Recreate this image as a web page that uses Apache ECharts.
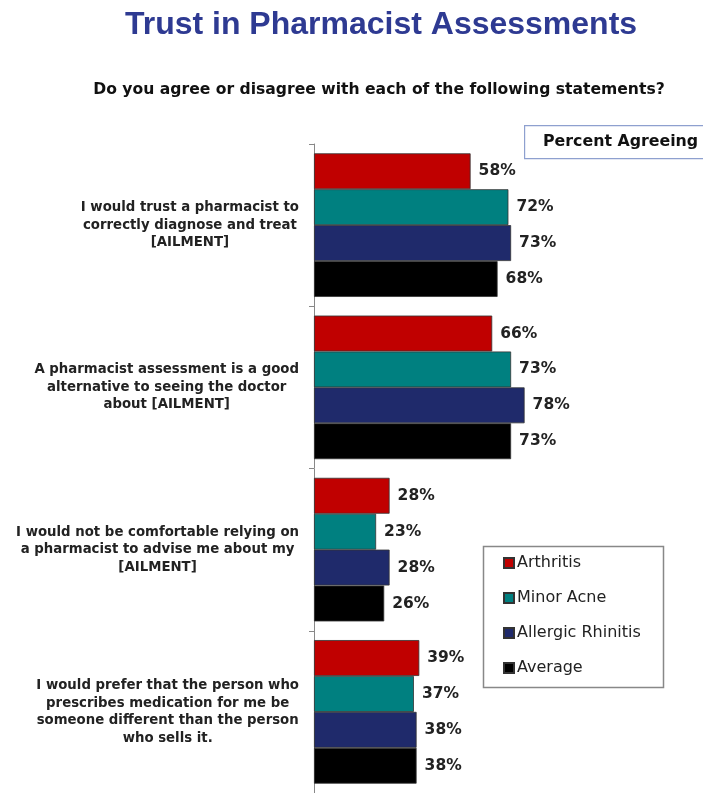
<!DOCTYPE html>
<html>
<head>
<meta charset="utf-8">
<script src="https://cdn.jsdelivr.net/npm/echarts@6/dist/echarts.min.js"></script>
<style>
  html, body { margin: 0; padding: 0; background: #fff; }
  #chart { width: 703px; height: 793px; }
</style>
</head>
<body>
<div id="chart"></div>
<script>
// Survey statements (one category per statement)
const statements = [
  'I would trust a pharmacist to\ncorrectly diagnose and treat\n[AILMENT]',
  'A pharmacist assessment is a good\nalternative to seeing the doctor\nabout [AILMENT]',
  'I would not be comfortable relying on\na pharmacist to advise me about my\n[AILMENT]',
  'I would prefer that the person who\nprescribes medication for me be\nsomeone different than the person\nwho sells it.'
];

// Percent agreeing, per ailment group
const seriesNames = ['Arthritis', 'Minor Acne', 'Allergic Rhinitis', 'Average'];
const arthritis = [58, 66, 28, 39];
const minorAcne = [72, 73, 23, 37];
const allergicRhinitis = [73, 78, 28, 38];
const average = [68, 73, 26, 38];

const seriesValues = [arthritis, minorAcne, allergicRhinitis, average];
const seriesColors = ['#C00000', '#008080', '#1F2A6B', '#000000'];

const WIDE = 'DejaVu Sans, Verdana, sans-serif';
const ARIAL = 'Liberation Sans, Arial, sans-serif';

const chart = echarts.init(document.getElementById('chart'));

const series = seriesNames.map((name, i) => ({
  name: name,
  type: 'bar',
  data: seriesValues[i],
  barGap: '0%',
  barCategoryGap: '11.5%',
  itemStyle: { color: seriesColors[i], borderColor: '#333', borderWidth: 0.8 },
  label: {
    show: true,
    position: 'right',
    distance: 8,
    formatter: '{c}%',
    fontFamily: WIDE,
    fontWeight: 'bold',
    fontSize: 15.5,
    color: '#222'
  }
}));

// Statement labels: block anchored to the axis, each line centred inside it
const centredLines = (text) => text.split('\n').map(l => '{c|' + l + '}').join('\n');

chart.setOption({
  animation: false,
  title: [
    {
      text: 'Trust in Pharmacist Assessments',
      left: 376, top: 4, textAlign: 'center',
      textStyle: { fontFamily: ARIAL, fontWeight: 'bold', fontSize: 32, color: '#2E3A92' }
    },
    {
      text: 'Do you agree or disagree with each of the following statements?',
      left: 374, top: 77, textAlign: 'center',
      textStyle: { fontFamily: WIDE, fontWeight: 'bold', fontSize: 15.6, color: '#111' }
    }
  ],
  grid: { left: 314, top: 144, width: 270, height: 658, containLabel: false },
  xAxis: {
    type: 'value', min: 0, max: 100, show: false
  },
  yAxis: {
    type: 'category',
    data: statements,
    inverse: true,
    axisLine: { show: true, lineStyle: { color: '#888', width: 1 } },
    axisTick: { show: true, length: 5, lineStyle: { color: '#888' } },
    axisLabel: {
      align: 'right',
      margin: 15,
      formatter: centredLines,
      rich: {
        c: {
          align: 'center',
          lineHeight: 17.5,
          fontFamily: WIDE,
          fontWeight: 'bold',
          fontSize: 13.3,
          color: '#222'
        }
      }
    }
  },
  legend: {
    orient: 'vertical',
    left: 498, top: 549,
    itemWidth: 10, itemHeight: 10,
    itemGap: 17,
    icon: 'rect',
    textStyle: { fontFamily: WIDE, fontSize: 16, lineHeight: 18, color: '#222', padding: [0, 0, 0, -2] },
    data: seriesNames
  },
  graphic: [
    {
      type: 'rect', left: 481, top: 544,
      shape: { width: 180, height: 141 },
      style: { fill: 'none', stroke: '#888', lineWidth: 1.5 }, z: 0
    },
    {
      type: 'rect', left: 524, top: 125,
      shape: { width: 200, height: 33 },
      style: { fill: '#fff', stroke: '#8EA0CF', lineWidth: 1.2 }
    },
    {
      type: 'text', left: 543, top: 134,
      style: { text: 'Percent Agreeing', fontFamily: WIDE, fontWeight: 'bold', fontSize: 15.8, fill: '#111' }
    }
  ],
  series: series
});
</script>
</body>
</html>
